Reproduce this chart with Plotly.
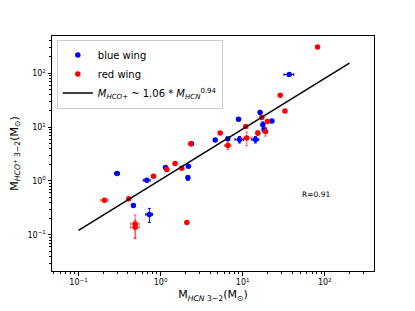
import plotly.graph_objects as go

# ---- data ----
blue_x = [0.295, 0.466, 0.73, 0.68, 1.15, 2.18, 2.15, 2.38, 4.63, 6.6, 8.9, 9.15, 14.3, 16.3, 17.6, 18.3, 22.7, 36.9]
blue_y = [1.38, 0.35, 0.24, 1.03, 1.78, 1.88, 1.15, 4.9, 5.78, 6.1, 14.0, 5.87, 5.87, 18.6, 11.0, 8.9, 13.0, 94.3]
blue_xerr = [0.02, 0, 0.07, 0.065, 0, 0, 0, 0, 0, 0, 0.4, 1.1, 1.4, 0, 0, 0.8, 0, 5.0]
blue_yerr = [0, 0, 0.07, 0, 0, 0, 0.12, 0, 0, 0, 0, 0.8, 0.8, 0, 1.5, 1.0, 0, 0]

red_x = [0.207, 0.41, 0.49, 0.49, 0.82, 1.19, 1.50, 1.81, 2.09, 2.33, 5.32, 6.6, 11.2, 10.9, 15.3, 17.1, 19.0, 20.0, 28.7, 32.7, 81.7]
red_y = [0.44, 0.47, 0.16, 0.138, 1.23, 1.64, 2.11, 1.73, 0.169, 4.9, 7.77, 4.55, 6.3, 10.3, 7.76, 15.0, 8.3, 12.7, 39, 19.9, 306]
red_xerr = [0.022, 0.02, 0.06, 0.06, 0.05, 0, 0, 0, 0, 0, 0, 0.6, 1.8, 0, 0.8, 0, 1.0, 0, 0, 0, 4]
red_yerr = [0, 0.03, 0.075, 0.05, 0, 0.12, 0, 0, 0, 0, 0, 0.7, 1.8, 0, 0.8, 0, 1.5, 0, 0, 0, 0]

fit_coef = 1.06
fit_exp = 0.94
fit_x = [0.1, 200]
fit_y = [fit_coef * v ** fit_exp for v in fit_x]

tick_vals = [0.1, 1, 10, 100]
tick_text = ["10<sup>−1</sup>", "10<sup>0</sup>", "10<sup>1</sup>", "10<sup>2</sup>"]

FONT = "DejaVu Sans"

fig = go.Figure()

fig.add_trace(go.Scatter(
    x=blue_x, y=blue_y, mode="markers", name="blue wing",
    marker=dict(color="blue", size=5.5),
    error_x=dict(type="data", array=blue_xerr, color="blue", thickness=1, width=1.5),
    error_y=dict(type="data", array=blue_yerr, color="blue", thickness=1, width=1.5),
))
fig.add_trace(go.Scatter(
    x=red_x, y=red_y, mode="markers", name="red wing",
    marker=dict(color="red", size=5.5),
    error_x=dict(type="data", array=red_xerr, color="rgba(255,0,0,0.6)", thickness=1, width=1.5),
    error_y=dict(type="data", array=red_yerr, color="rgba(255,0,0,0.6)", thickness=1, width=1.5),
))
fig.add_trace(go.Scatter(
    x=fit_x, y=fit_y, mode="lines",
    name="<i>M<sub>HCO+</sub></i> ~ 1.06 * <i>M<sub>HCN</sub></i><sup>0.94</sup>",
    line=dict(color="black", width=1.5),
))

axis_common = dict(
    type="log", showline=True, linecolor="black", linewidth=1, mirror=True,
    ticks="outside", ticklen=3.5, tickcolor="black", showgrid=False, zeroline=False,
    tickvals=tick_vals, ticktext=tick_text,
    tickfont=dict(family=FONT, size=8, color="black"),
    minor=dict(ticks="outside", ticklen=2, tickcolor="black", showgrid=False,
               tickvals=[m * 10 ** e for e in range(-2, 3) for m in range(2, 10)]),
)

fig.update_layout(
    width=415, height=311,
    margin=dict(l=52, r=41, t=36, b=36),
    paper_bgcolor="white", plot_bgcolor="white",
    font=dict(family=FONT, color="black"),
    xaxis=dict(range=[-1.323, 2.6],
               title=dict(text="M<sub><i>HCN</i> 3−2</sub>(M<sub>⊙</sub>)",
                          font=dict(size=11), standoff=4),
               **axis_common),
    yaxis=dict(range=[-1.67, 2.69],
               title=dict(text="M<sub><i>HCO<sup>+</sup></i> 3−2</sub>(M<sub>⊙</sub>)",
                          font=dict(size=11), standoff=6),
               **axis_common),
    legend=dict(x=0.015, y=0.985, xanchor="left", yanchor="top",
                bgcolor="rgba(255,255,255,0.8)", bordercolor="#cccccc", borderwidth=1,
                font=dict(family=FONT, size=10), tracegroupgap=0, itemwidth=30),
    showlegend=True,
    annotations=[dict(x=0.77, y=0.327, xref="paper", yref="paper", text="R=0.91",
                      showarrow=False, xanchor="left", yanchor="middle",
                      font=dict(family=FONT, size=7.5, color="black"))],
)

fig.write_html("out.html", config={"displayModeBar": False},
               post_script="document.body.style.margin='0';")
